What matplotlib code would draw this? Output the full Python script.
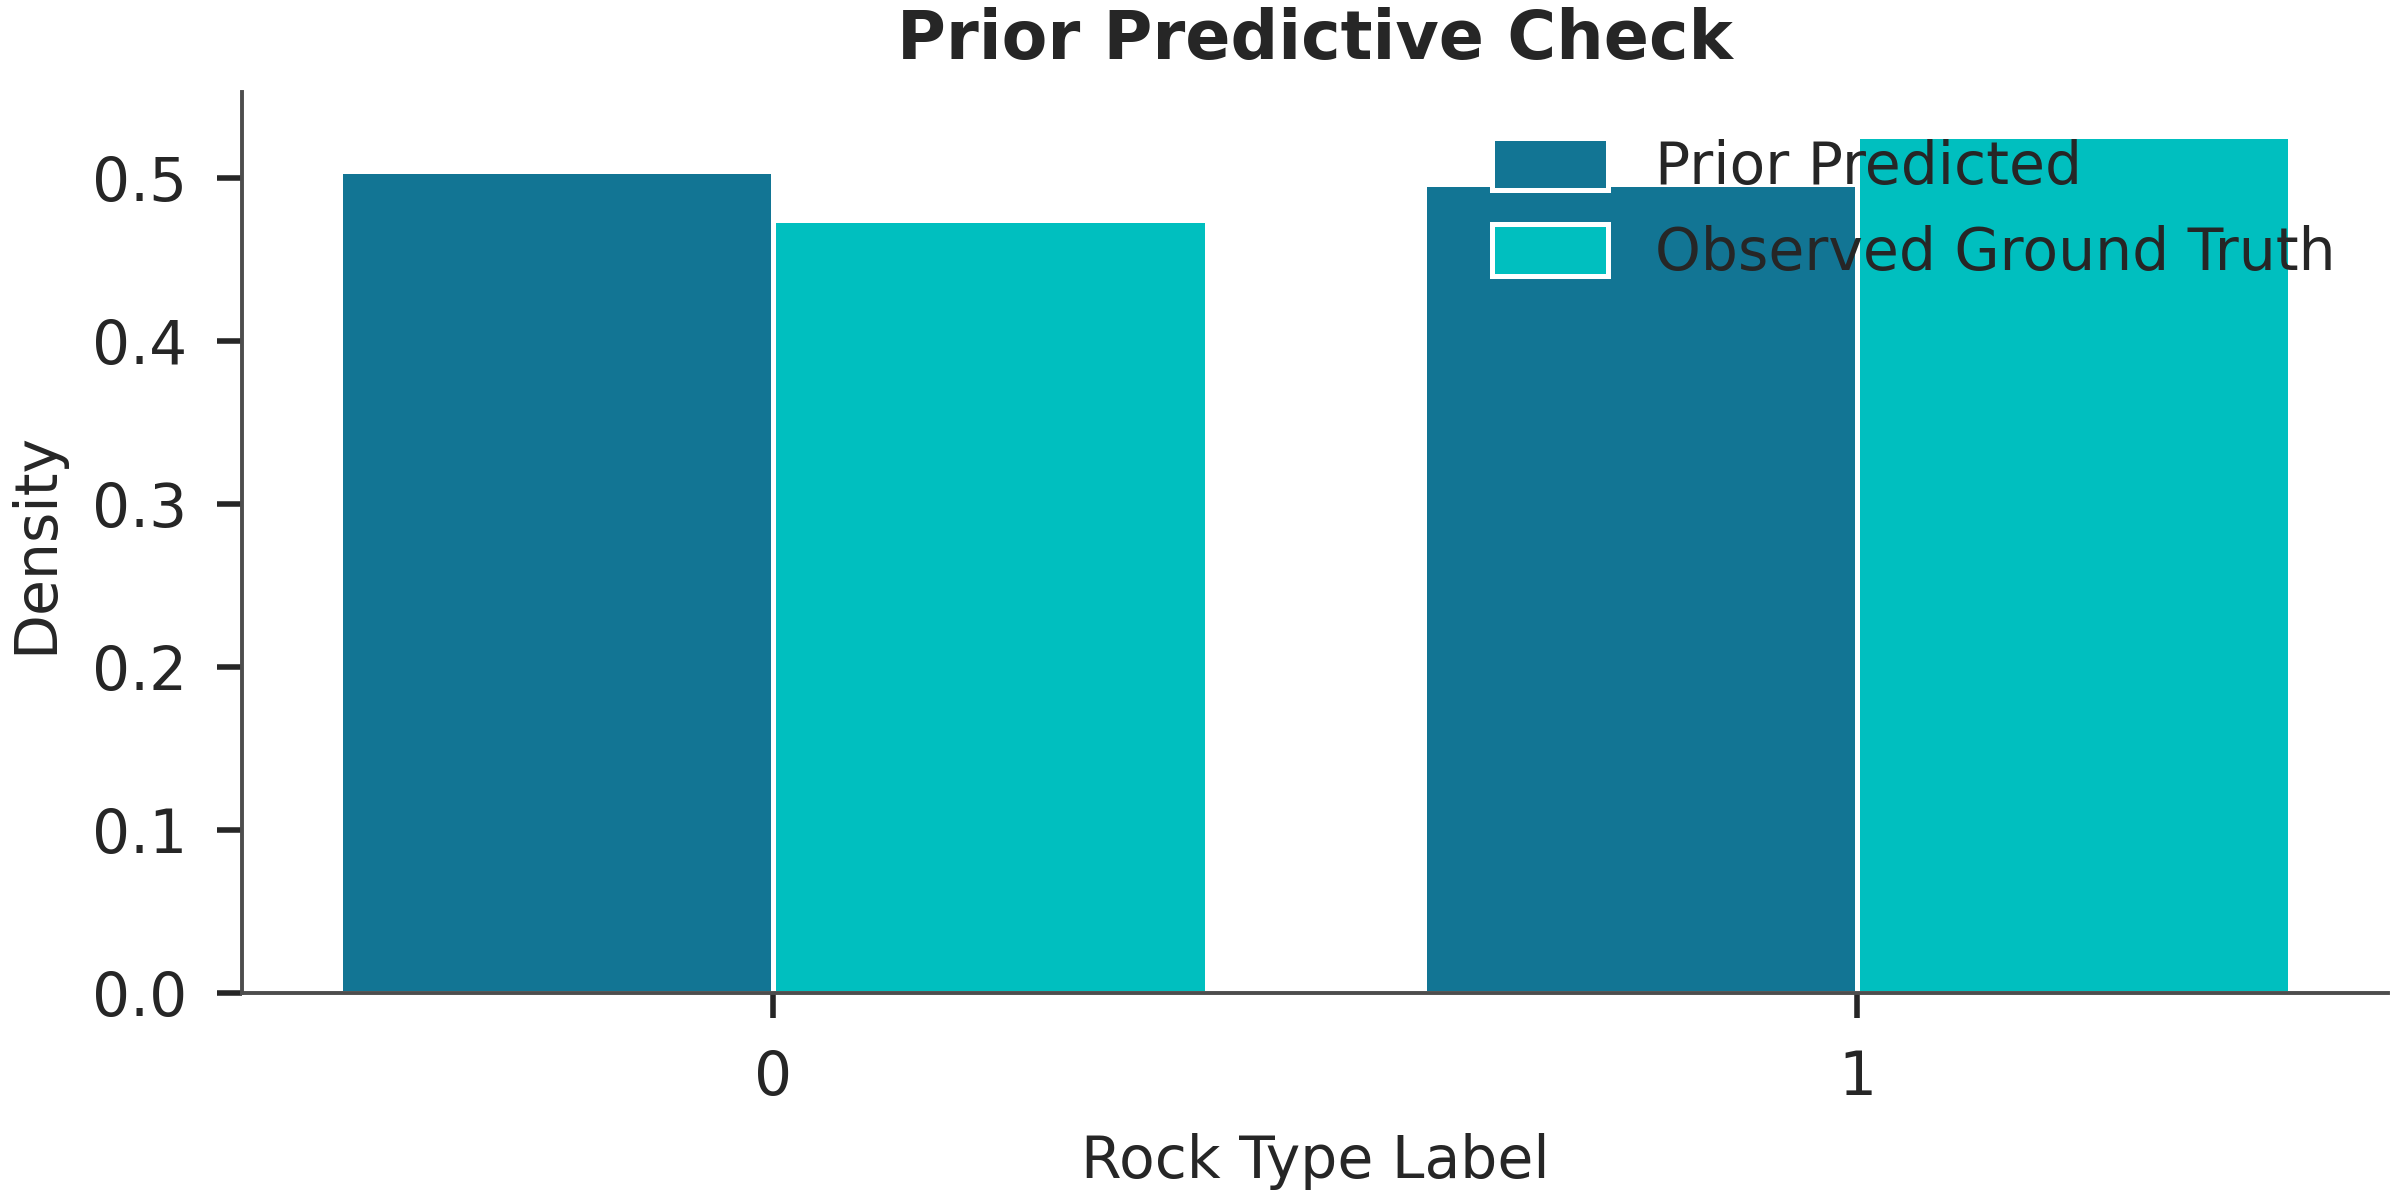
import matplotlib.pyplot as plt
import numpy as np

# rock type categories and density per source
labels = [0, 1]
prior_predicted = [0.504, 0.496]
observed_truth = [0.474, 0.526]

dark = '#127594'
cyan = '#00bfbf'


def plot_data():
    fig = plt.figure(figsize=(12, 6), dpi=200)
    ax = fig.add_axes([0.101, 0.1725, 0.894, 0.7505])
    x = np.array(labels, dtype=float)
    w = 0.4
    ax.bar(x - w / 2, prior_predicted, width=w, color=dark, edgecolor='white',
           linewidth=1.8, label='Prior Predicted')
    ax.bar(x + w / 2, observed_truth, width=w, color=cyan, edgecolor='white',
           linewidth=1.8, label='Observed Ground Truth')

    ax.set_xlim(-0.49, 1.49)
    ax.set_ylim(0, 0.5525)
    ax.set_xticks(x)
    ax.set_xticklabels([str(v) for v in labels])
    ax.set_yticks(np.arange(0, 0.51, 0.1))
    ax.set_yticklabels([f"{v:.1f}" for v in np.arange(0, 0.51, 0.1)])

    ax.set_xlabel('Rock Type Label', fontsize=21, color='#262626', labelpad=9)
    ax.set_ylabel('Density', fontsize=21, color='#262626', labelpad=10)
    ax.set_title('Prior Predictive Check', fontsize=24, fontweight='bold',
                 color='#262626', pad=12)

    for side in ('top', 'right'):
        ax.spines[side].set_visible(False)
    for side in ('left', 'bottom'):
        ax.spines[side].set_color('#4d4d4d')
        ax.spines[side].set_linewidth(1.4)
    ax.tick_params(axis='both', labelsize=21.5, colors='#262626', length=9,
                   width=2, pad=11)

    leg = ax.legend(frameon=False, fontsize=21, loc='upper right',
                    bbox_to_anchor=(1.0, 1.008), handlelength=2.0,
                    handleheight=1.0, labelspacing=0.48, handletextpad=0.8)
    for txt in leg.get_texts():
        txt.set_color('#262626')

    fig.savefig('out.png')
    plt.close()


if __name__ == '__main__':
    plt.rcParams.update({"font.family": "DejaVu Sans"})
    plot_data()
